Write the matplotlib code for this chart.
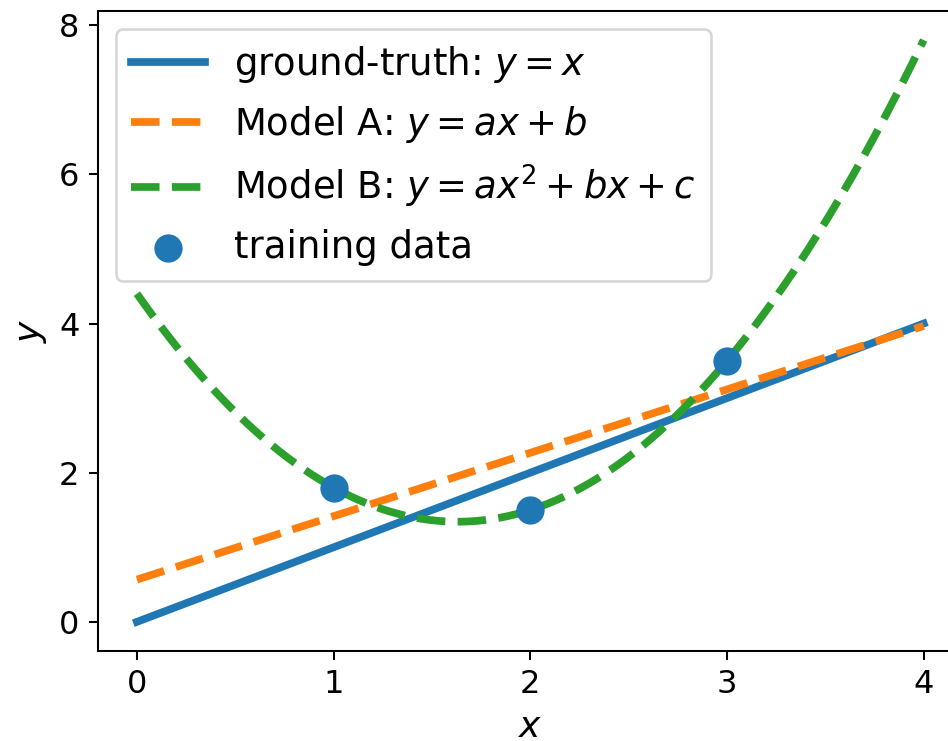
import matplotlib
matplotlib.use("Agg")
import matplotlib.pyplot as plt
import numpy as np

# training points
x_train = np.array([1.0, 2.0, 3.0])
y_train = np.array([1.8, 1.5, 3.5])

x_range = (0.0, 4.0)

plt.rcParams["font.size"] = 12.5

# model fits to the training points
coef_a = np.polyfit(x_train, y_train, 1)
coef_b = np.polyfit(x_train, y_train, 2)

xs = np.linspace(x_range[0], x_range[1], 200)

fig = plt.figure(figsize=(949 / 185, 741 / 185), dpi=185)
ax = fig.add_axes([0.1028, 0.1215, 0.912, 0.8637])

ax.plot(xs, xs, lw=3, label="ground-truth: $y = x$")
ax.plot(xs, np.polyval(coef_a, xs), "--", lw=3, label="Model A: $y = ax + b$")
ax.plot(xs, np.polyval(coef_b, xs), "--", lw=3, label="Model B: $y = ax^2 + bx + c$")
ax.scatter(x_train, y_train, s=100, label="training data", zorder=3)

ax.set_xlabel("$x$", fontsize=14)
ax.set_ylabel("$y$", fontsize=14)
ax.set_xticks([0, 1, 2, 3, 4])
ax.set_yticks([0, 2, 4, 6, 8])
ax.legend(loc="upper left", fontsize=14.4)

fig.savefig("out.png", dpi=185)
